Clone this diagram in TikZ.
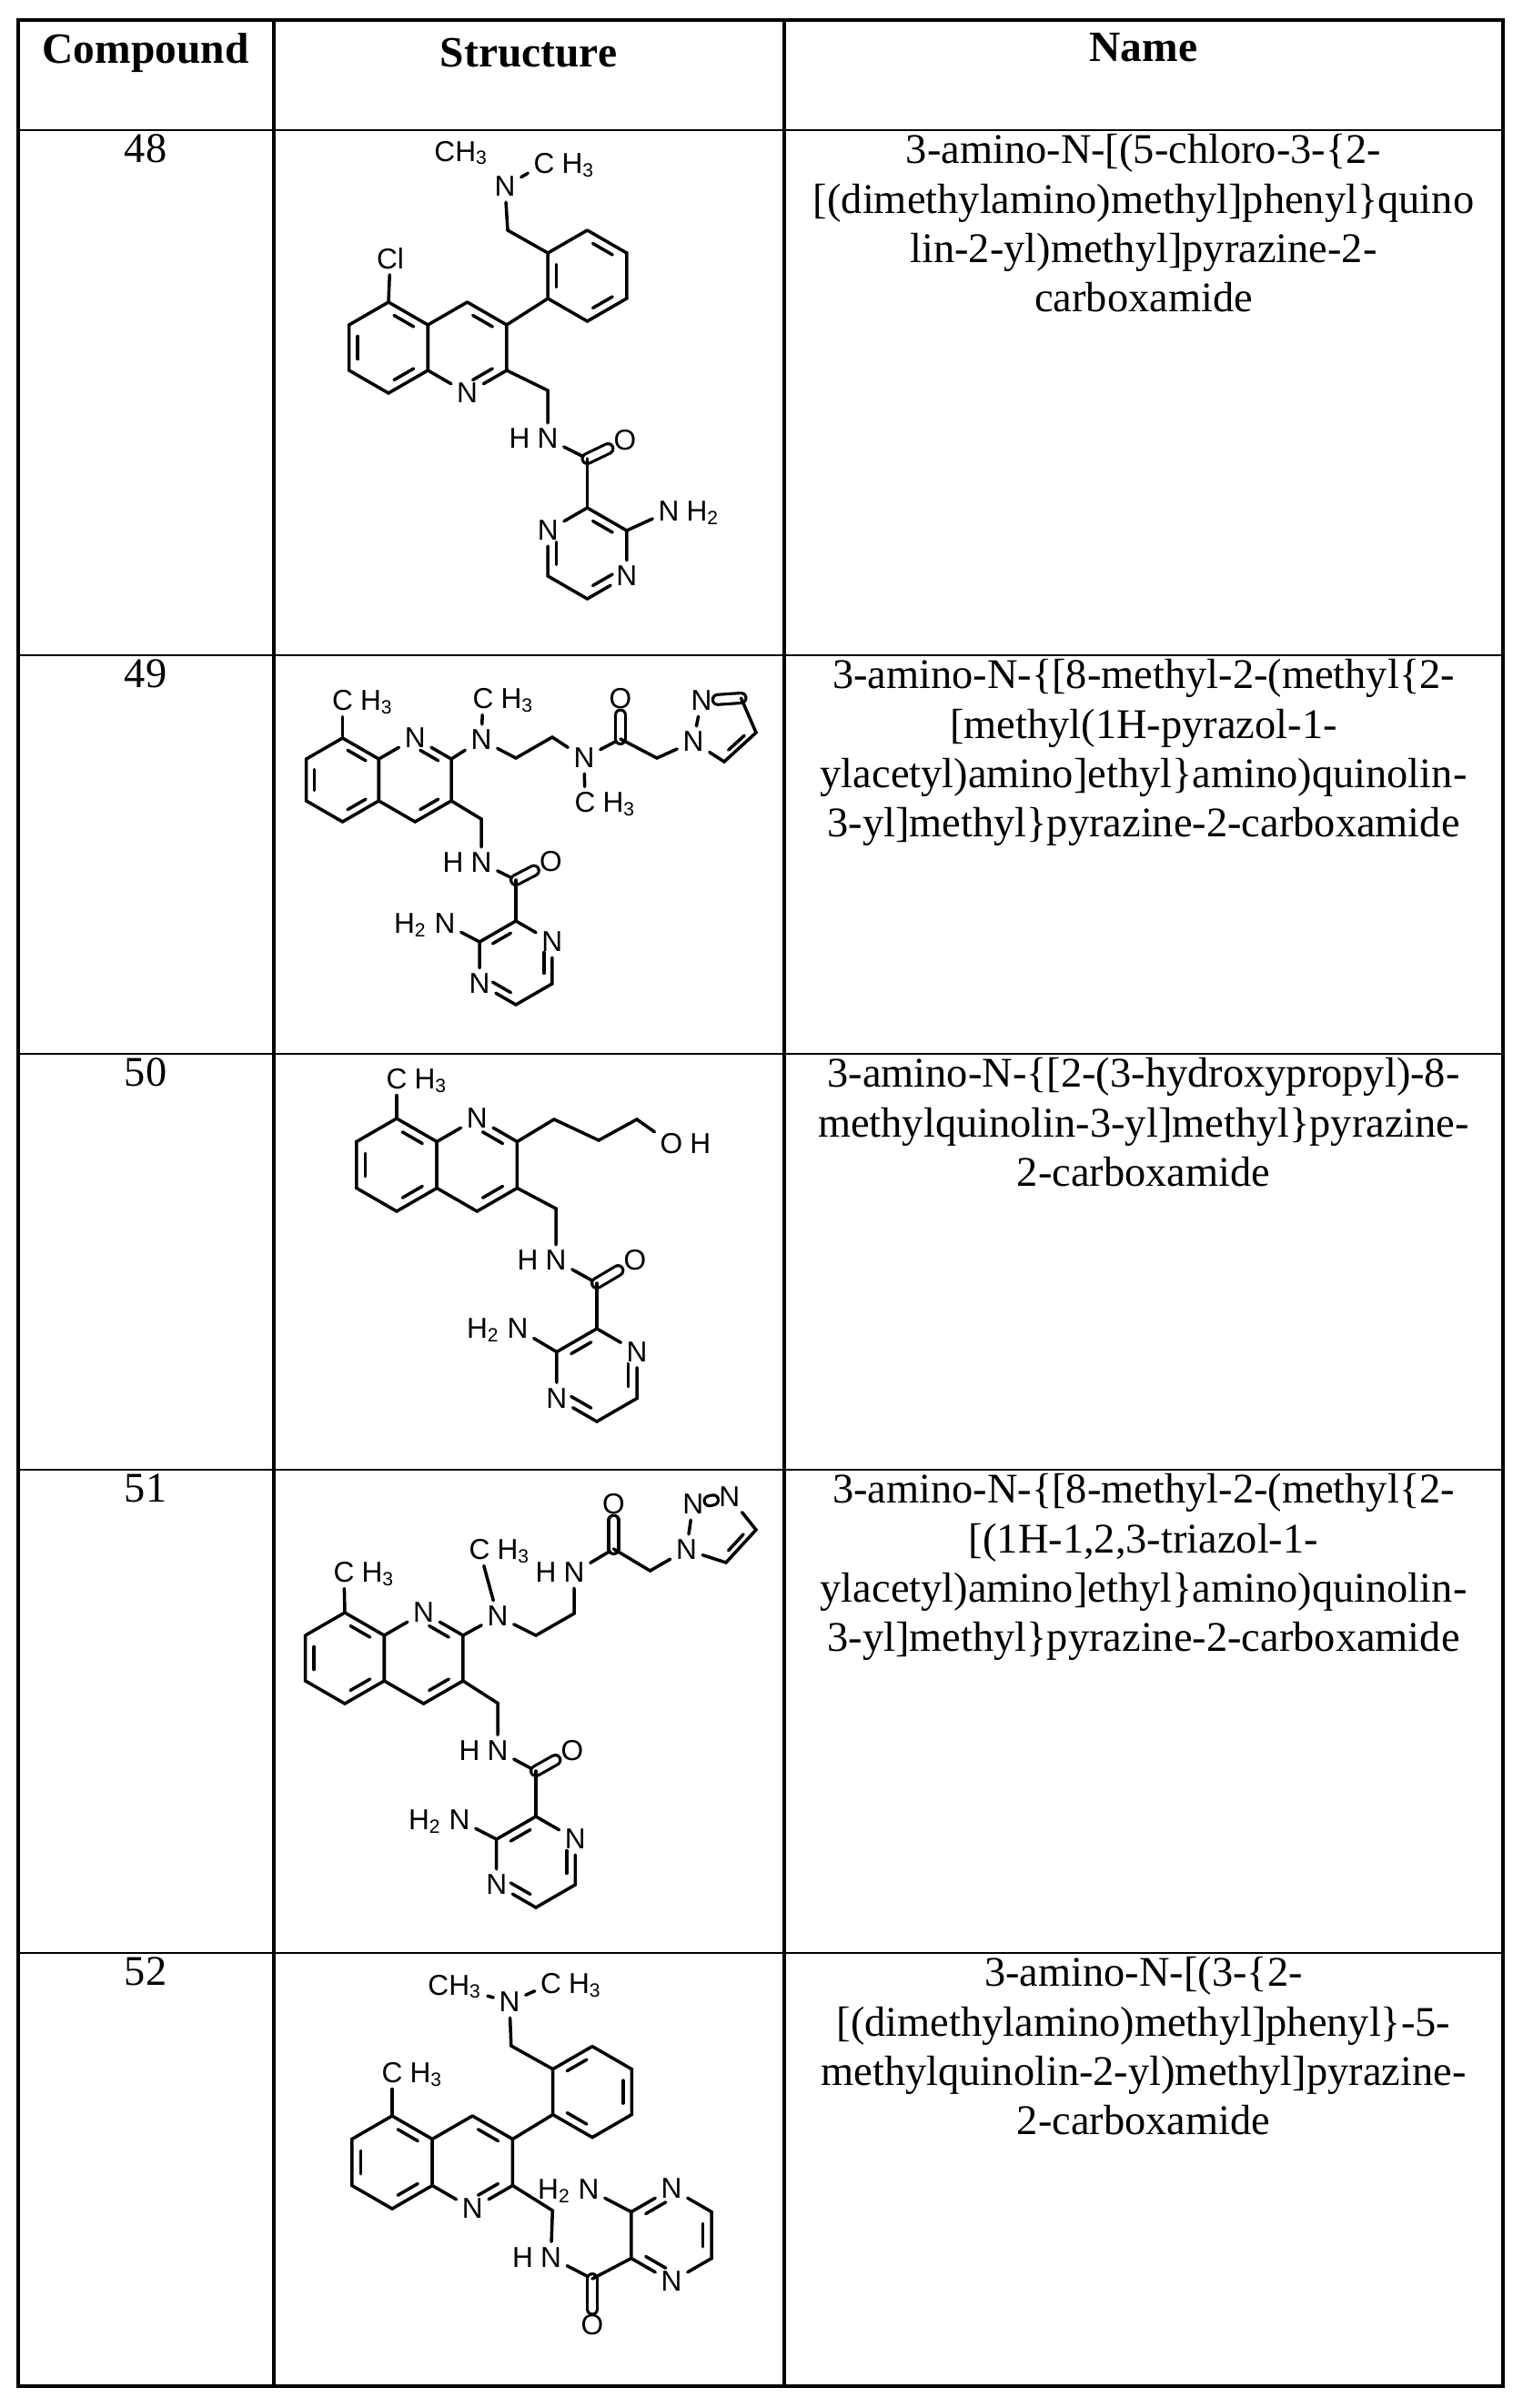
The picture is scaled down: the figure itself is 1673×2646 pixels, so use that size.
\documentclass[tikz,border=0pt]{standalone}
\usepackage{fontspec}
\setmainfont{Liberation Serif}
\newfontfamily\chem{Liberation Sans}
\usetikzlibrary{calc,positioning}
\newcommand\hexring[4]{%
 \coordinate (#1c) at (#2,#3);
 \coordinate (#11) at (#2,#3-#4);
 \coordinate (#12) at (#2+0.866*#4,#3-0.5*#4);
 \coordinate (#13) at (#2+0.866*#4,#3+0.5*#4);
 \coordinate (#14) at (#2,#3+#4);
 \coordinate (#15) at (#2-0.866*#4,#3+0.5*#4);
 \coordinate (#16) at (#2-0.866*#4,#3-0.5*#4);}
\newcommand\hexdraw[1]{\draw (#11)--(#12)--(#13)--(#14)--(#15)--(#16)--(#11);}
\newcommand\dbin[3]{\draw ($($(#1)!0.18!(#2)$)!0.22!(#3)$) -- ($($(#2)!0.18!(#1)$)!0.22!(#3)$);}
\newcommand\atm[4]{\node[atom] (#1) at (#2,#3) {#4};}
\begin{document}
\begin{tikzpicture}[x=0.01cm,y=-0.01cm,
  atom/.style={font=\chem\fontsize{9}{10}\selectfont, inner sep=1.3pt},
  sub/.style={font=\chem\fontsize{9}{10}\selectfont, inner sep=0pt},
  dbl/.style={double, double distance=2.2pt, line width=0.9pt},
  txt/.style={font=\fontsize{13.2}{15.4}\selectfont, align=center, inner sep=0pt},
  hdr/.style={font=\fontsize{13.5}{15.4}\selectfont\bfseries, inner sep=0pt},
  tline/.style={line width=0.8pt},
  every path/.style={line width=1pt, line cap=round}]
\useasboundingbox (0,0) rectangle (1673,2646);
\fill[white] (0,0) rectangle (1673,2646);
% table
\draw[line width=1.3pt] (20,22) rectangle (1652,2622);
\foreach \yy in {143,720,1158,1615,2146} \draw[tline] (20,\yy) -- (1652,\yy);
\draw[line width=1.1pt] (301,22) -- (301,2622);
\draw[line width=1.1pt] (862,22) -- (862,2622);
\node[hdr] (h1) at (160,58) {Compound};
\node[hdr] (h2) at (581,58) {Structure};
\node[hdr] (h3) at (1257,52) {Name};
\node[txt,anchor=north] (n48) at (160,146) {48};
\node[txt,anchor=north] (n49) at (160,723) {49};
\node[txt,anchor=north] (n50) at (160,1161) {50};
\node[txt,anchor=north] (n51) at (160,1618) {51};
\node[txt,anchor=north] (n52) at (160,2149) {52};
\node[txt,anchor=north] (t48) at (1257,146) {3-amino-N-[(5-chloro-3-\{2-\\{}[(dimethylamino)methyl]phenyl\}quino\\lin-2-yl)methyl]pyrazine-2-\\carboxamide};
\node[txt,anchor=north] (t49) at (1257,723) {3-amino-N-\{[8-methyl-2-(methyl\{2-\\{}[methyl(1H-pyrazol-1-\\ylacetyl)amino]ethyl\}amino)quinolin-\\3-yl]methyl\}pyrazine-2-carboxamide};
\node[txt,anchor=north] (t50) at (1257,1161) {3-amino-N-\{[2-(3-hydroxypropyl)-8-\\methylquinolin-3-yl]methyl\}pyrazine-\\2-carboxamide};
\node[txt,anchor=north] (t51) at (1257,1618) {3-amino-N-\{[8-methyl-2-(methyl\{2-\\{}[(1H-1,2,3-triazol-1-\\ylacetyl)amino]ethyl\}amino)quinolin-\\3-yl]methyl\}pyrazine-2-carboxamide};
\node[txt,anchor=north] (t52) at (1257,2149) {3-amino-N-[(3-\{2-\\{}[(dimethylamino)methyl]phenyl\}-5-\\methylquinolin-2-yl)methyl]pyrazine-\\2-carboxamide};
% ===== 48 =====
\hexring{uqa}{427}{382}{50}\hexring{uqb}{513.6}{382}{50}
\node[atom] (uqb4) at (uqb4) {N};
\hexdraw{uqa}\hexdraw{uqb}
\dbin{uqa1}{uqa2}{uqac}\dbin{uqa6}{uqa5}{uqac}\dbin{uqa4}{uqa3}{uqac}
\dbin{uqb1}{uqb2}{uqbc}\dbin{uqb3}{uqb4}{uqbc}
\atm{ucl}{429}{284}{Cl}\draw (uqa1)--(ucl);
\hexring{upa}{645.5}{303}{50}\hexdraw{upa}\draw (uqb2)--(upa5);
\dbin{upa6}{upa5}{upac}\dbin{upa1}{upa2}{upac}\dbin{upa3}{upa4}{upac}
\coordinate (um1) at (558,253);\atm{unme}{555}{205}{N}\draw (upa6)--(um1)--(unme);
\atm{ume1}{507}{168}{CH\textsubscript{3}}
\atm{ume2}{598}{180}{C}\node[sub, base right=0pt of ume2] (ume2h) {H\textsubscript{3}};\draw (unme)--(ume2);
\coordinate (um2) at (602,429);\atm{uhn}{602}{482}{N}\node[sub, base left=0pt of uhn] (uhnh) {H};
\draw (uqb3)--(um2)--(uhn);
\coordinate (uco) at (645.5,504);\atm{uo}{687}{484}{O}\draw (uhn)--(uco);\draw[dbl] (uco)--(uo);
\hexring{uza}{645.5}{608}{50}\node[atom] (uza3) at (uza3) {N};\node[atom] (uza6) at (uza6) {N};
\draw (uco)--(uza1);\hexdraw{uza}
\dbin{uza1}{uza2}{uzac}\dbin{uza6}{uza5}{uzac}\dbin{uza4}{uza3}{uzac}
\atm{unh2}{735}{562}{N}\node[sub, base right=0pt of unh2] (unh2h) {H\textsubscript{2}};\draw (uza2)--(unh2);
% ===== 49 =====
\hexring{vqa}{376.5}{857}{46}\hexring{vqb}{456.2}{857}{46}
\node[atom] (vqb1) at (vqb1) {N};
\hexdraw{vqa}\hexdraw{vqb}
\dbin{vqa1}{vqa2}{vqac}\dbin{vqa6}{vqa5}{vqac}\dbin{vqa4}{vqa3}{vqac}
\dbin{vqb1}{vqb2}{vqbc}\dbin{vqb3}{vqb4}{vqbc}
\atm{vme}{376.5}{770}{C}\node[sub, base right=0pt of vme] (vmeh) {H\textsubscript{3}};\draw (vqa1)--(vme);
\atm{vna}{529}{813}{N}\draw (vqb2)--(vna);
\atm{vme2}{531}{768}{C}\node[sub, base right=0pt of vme2] (vme2h) {H\textsubscript{3}};\draw (vna)--(vme2);
\coordinate (ve1) at (567,833);\coordinate (ve2) at (607,810);\atm{vnb}{642}{833}{N}
\draw (vna)--(ve1)--(ve2)--(vnb);
\atm{vme3}{643}{882}{C}\node[sub, base right=0pt of vme3] (vme3h) {H\textsubscript{3}};\draw (vnb)--(vme3);
\coordinate (vco) at (682,812);\atm{vo}{682}{768}{O}\draw (vnb)--(vco);\draw[dbl] (vco)--(vo);
\coordinate (vch) at (722,833);\atm{vp1}{762}{815}{N}\atm{vp2}{771}{770}{N}
\coordinate (vp3) at (814.5,767);\coordinate (vp4) at (831,805);\coordinate (vp5) at (796,837);\coordinate (vpc) at (795,799);
\draw (vco)--(vch)--(vp1);\draw (vp1)--(vp2);\draw[dbl] (vp2)--(vp3);\draw (vp3)--(vp4)--(vp5)--(vp1);\dbin{vp4}{vp5}{vpc}
\coordinate (vm2) at (529,900);\atm{vhn}{529}{948}{N}\node[sub, base left=0pt of vhn] (vhnh) {H};
\draw (vqb3)--(vm2)--(vhn);
\coordinate (vco2) at (567,967);\atm{vo2}{605.5}{947}{O}\draw (vhn)--(vco2);\draw[dbl] (vco2)--(vo2);
\hexring{vza}{567}{1058}{46}\node[atom] (vza2) at (vza2) {N};\node[atom] (vza5) at (vza5) {N};
\draw (vco2)--(vza1);\hexdraw{vza}
\dbin{vza1}{vza6}{vzac}\dbin{vza2}{vza3}{vzac}\dbin{vza4}{vza5}{vzac}
\atm{vnh2}{489}{1015}{N}\node[sub, base left=0pt of vnh2] (vnh2h) {H\textsubscript{2}};\draw (vza6)--(vnh2);
% ===== 50 =====
\hexring{wqa}{436}{1280}{51}\hexring{wqb}{524.3}{1280}{51}
\node[atom] (wqb1) at (wqb1) {N};
\hexdraw{wqa}\hexdraw{wqb}
\dbin{wqa1}{wqa2}{wqac}\dbin{wqa6}{wqa5}{wqac}\dbin{wqa4}{wqa3}{wqac}
\dbin{wqb1}{wqb2}{wqbc}\dbin{wqb3}{wqb4}{wqbc}
\atm{wme}{436}{1186}{C}\node[sub, base right=0pt of wme] (wmeh) {H\textsubscript{3}};\draw (wqa1)--(wme);
\coordinate (wk1) at (609,1230);\coordinate (wk2) at (658,1253);\coordinate (wk3) at (700,1230);
\atm{woh}{738}{1257}{O}\node[sub, base right=0pt of woh] (wohh) {H};
\draw (wqb2)--(wk1)--(wk2)--(wk3)--(woh);
\coordinate (wm) at (611,1328);\atm{whn}{611}{1385}{N}\node[sub, base left=0pt of whn] (whnh) {H};
\draw (wqb3)--(wm)--(whn);
\coordinate (wco) at (656,1410);\atm{wo}{698}{1385}{O}\draw (whn)--(wco);\draw[dbl] (wco)--(wo);
\hexring{wza}{656}{1511}{51}\node[atom] (wza2) at (wza2) {N};\node[atom] (wza5) at (wza5) {N};
\draw (wco)--(wza1);\hexdraw{wza}
\dbin{wza1}{wza6}{wzac}\dbin{wza2}{wza3}{wzac}\dbin{wza4}{wza5}{wzac}
\atm{wnh2}{569}{1460}{N}\node[sub, base left=0pt of wnh2] (wnh2h) {H\textsubscript{2}};\draw (wza6)--(wnh2);
% ===== 51 =====
\hexring{xqa}{379}{1822}{50}\hexring{xqb}{465.6}{1822}{50}
\node[atom] (xqb1) at (xqb1) {N};
\hexdraw{xqa}\hexdraw{xqb}
\dbin{xqa1}{xqa2}{xqac}\dbin{xqa6}{xqa5}{xqac}\dbin{xqa4}{xqa3}{xqac}
\dbin{xqb1}{xqb2}{xqbc}\dbin{xqb3}{xqb4}{xqbc}
\atm{xme}{378}{1728}{C}\node[sub, base right=0pt of xme] (xmeh) {H\textsubscript{3}};\draw (xqa1)--(xme);
\atm{xna}{547}{1776}{N}\draw (xqb2)--(xna);
\atm{xme2}{527}{1703}{C}\node[sub, base right=0pt of xme2] (xme2h) {H\textsubscript{3}};\draw (xna)--(xme2);
\coordinate (xe1) at (589,1797);\coordinate (xe2) at (631,1773);
\atm{xnb}{631}{1728}{N}\node[sub, base left=0pt of xnb] (xnbh) {H};
\draw (xna)--(xe1)--(xe2)--(xnb);
\coordinate (xco) at (674.5,1702);\atm{xo}{674.5}{1653}{O}\draw (xnb)--(xco);\draw[dbl] (xco)--(xo);
\coordinate (xch) at (714.5,1726);\atm{xt1}{754.5}{1703}{N}\atm{xt2}{761.8}{1653}{N}\atm{xt3}{801.8}{1644.5}{N}
\coordinate (xt4) at (831,1681);\coordinate (xt5) at (798,1717);\coordinate (xtc) at (789,1680);
\draw (xco)--(xch)--(xt1);\draw (xt1)--(xt2);\draw[dbl] (xt2)--(xt3);\draw (xt3)--(xt4)--(xt5)--(xt1);\dbin{xt4}{xt5}{xtc}
\coordinate (xm) at (547,1871.5);\atm{xhn}{547}{1923.5}{N}\node[sub, base left=0pt of xhn] (xhnh) {H};
\draw (xqb3)--(xm)--(xhn);
\coordinate (xco2) at (589,1946);\atm{xo2}{629}{1923.5}{O}\draw (xhn)--(xco2);\draw[dbl] (xco2)--(xo2);
\hexring{xza}{589}{2046}{50}\node[atom] (xza2) at (xza2) {N};\node[atom] (xza5) at (xza5) {N};
\draw (xco2)--(xza1);\hexdraw{xza}
\dbin{xza1}{xza6}{xzac}\dbin{xza2}{xza3}{xzac}\dbin{xza4}{xza5}{xzac}
\atm{xnh2}{505}{2000}{N}\node[sub, base left=0pt of xnh2] (xnh2h) {H\textsubscript{2}};\draw (xza6)--(xnh2);
% ===== 52 =====
\hexring{yqa}{431}{2376}{51}\hexring{yqb}{519.3}{2376}{51}
\node[atom] (yqb4) at (yqb4) {N};
\hexdraw{yqa}\hexdraw{yqb}
\dbin{yqa1}{yqa2}{yqac}\dbin{yqa6}{yqa5}{yqac}\dbin{yqa4}{yqa3}{yqac}
\dbin{yqb1}{yqb2}{yqbc}\dbin{yqb3}{yqb4}{yqbc}
\atm{yme}{431}{2278}{C}\node[sub, base right=0pt of yme] (ymeh) {H\textsubscript{3}};\draw (yqa1)--(yme);
\hexring{ypa}{651}{2298.6}{50}\hexdraw{ypa}\draw (yqb2)--(ypa5);
\dbin{ypa6}{ypa1}{ypac}\dbin{ypa2}{ypa3}{ypac}\dbin{ypa4}{ypa5}{ypac}
\coordinate (ym1) at (561.8,2248);\atm{ynme}{560}{2200}{N}\draw (ypa6)--(ym1)--(ynme);
\atm{yme1}{500}{2183}{CH\textsubscript{3}}\draw (yme1)--(ynme);
\atm{yme2}{605.5}{2180}{C}\node[sub, base right=0pt of yme2] (yme2h) {H\textsubscript{3}};\draw (ynme)--(yme2);
\coordinate (ym2) at (607.3,2429);\atm{yhn}{605.5}{2480.5}{N}\node[sub, base left=0pt of yhn] (yhnh) {H};
\draw (yqb3)--(ym2)--(yhn);
\coordinate (yco) at (651,2504);\atm{yo}{651}{2555}{O}\draw (yhn)--(yco);\draw[dbl] (yco)--(yo);
\hexring{yza}{738}{2456}{51}\node[atom] (yza1) at (yza1) {N};\node[atom] (yza4) at (yza4) {N};
\draw (yco)--(yza5);\hexdraw{yza}
\dbin{yza6}{yza1}{yzac}\dbin{yza2}{yza3}{yzac}\dbin{yza5}{yza4}{yzac}
\atm{ynh2}{647}{2406}{N}\node[sub, base left=0pt of ynh2] (ynh2h) {H\textsubscript{2}};\draw (yza6)--(ynh2);
\end{tikzpicture}
\end{document}
